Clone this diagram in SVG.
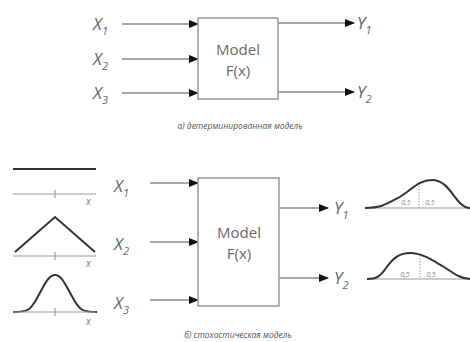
<svg xmlns="http://www.w3.org/2000/svg" width="470" height="342" viewBox="0 0 470 342">
<defs>
<marker id="ah" markerWidth="10" markerHeight="8" refX="9" refY="4" orient="auto" markerUnits="userSpaceOnUse">
<path d="M0,0 L10,4 L0,8 Z" fill="#111"/>
</marker>
<style>
.box{fill:#fff;stroke:#999;stroke-width:1.5}
.ln{stroke:#888;stroke-width:1.5;fill:none}
.lbl{font-family:"Open Sans","Liberation Sans",sans-serif;font-size:17px;fill:#666;font-style:italic}
.sub{font-size:11px}
.mt{font-family:"Open Sans","Liberation Sans",sans-serif;font-size:15px;fill:#6a6a6a;text-anchor:middle}
.cap{font-family:"Open Sans","Liberation Sans",sans-serif;font-size:8.5px;fill:#555;font-style:italic;text-anchor:middle}
.ax{stroke:#999;stroke-width:1.2;fill:none}
.cv{stroke:#333;stroke-width:2;fill:none}
.dt{stroke:#999;stroke-width:1;stroke-dasharray:1.5,1.5;fill:none}
.sm{font-family:"Open Sans","Liberation Sans",sans-serif;font-size:7px;fill:#888;font-style:italic;text-anchor:middle}
.xs{font-family:"Open Sans","Liberation Sans",sans-serif;font-size:10px;fill:#777;font-style:italic}
</style>
</defs>
<rect width="470" height="342" fill="#fff"/>

<g id="connectors">
<line class="ln" x1="122" y1="24" x2="198" y2="24" marker-end="url(#ah)"/>
<line class="ln" x1="122" y1="59" x2="198" y2="59" marker-end="url(#ah)"/>
<line class="ln" x1="122" y1="93" x2="198" y2="93" marker-end="url(#ah)"/>
<line class="ln" x1="278" y1="23" x2="354" y2="23" marker-end="url(#ah)"/>
<line class="ln" x1="278" y1="92" x2="354" y2="92" marker-end="url(#ah)"/>
<line class="ln" x1="150" y1="183" x2="198" y2="183" marker-end="url(#ah)"/>
<line class="ln" x1="150" y1="242" x2="198" y2="242" marker-end="url(#ah)"/>
<line class="ln" x1="150" y1="300" x2="198" y2="300" marker-end="url(#ah)"/>
<line class="ln" x1="279" y1="208" x2="328" y2="208" marker-end="url(#ah)"/>
<line class="ln" x1="279" y1="278" x2="328" y2="278" marker-end="url(#ah)"/>
</g>

<g id="model-a">
<rect class="box" x="198" y="18" width="80" height="81"/>
<text class="mt" x="238" y="55">Model</text>
<text class="mt" x="238" y="76">F(x)</text>
</g>

<g id="model-b">
<rect class="box" x="198" y="178" width="81" height="128"/>
<text class="mt" x="239" y="238">Model</text>
<text class="mt" x="239" y="259">F(x)</text>
</g>

<g id="labels-a">
<text class="lbl" x="93" y="30">X<tspan class="sub" dy="5">1</tspan></text>
<text class="lbl" x="93" y="65">X<tspan class="sub" dy="5">2</tspan></text>
<text class="lbl" x="93" y="99">X<tspan class="sub" dy="5">3</tspan></text>
<text class="lbl" x="357" y="29">Y<tspan class="sub" dy="5">1</tspan></text>
<text class="lbl" x="357" y="98">Y<tspan class="sub" dy="5">2</tspan></text>
<text class="cap" x="240" y="129">а) детерминированная модель</text>
</g>

<g id="labels-b">
<text class="lbl" x="114" y="192">X<tspan class="sub" dy="5">1</tspan></text>
<text class="lbl" x="114" y="250">X<tspan class="sub" dy="5">2</tspan></text>
<text class="lbl" x="114" y="309">X<tspan class="sub" dy="5">3</tspan></text>
<text class="lbl" x="334" y="214">Y<tspan class="sub" dy="5">1</tspan></text>
<text class="lbl" x="334" y="284">Y<tspan class="sub" dy="5">2</tspan></text>
<text class="cap" x="238" y="338">б) стохастическая модель</text>
</g>

<g id="dist-x1">
<line x1="13" y1="169" x2="96" y2="169" stroke="#333" stroke-width="2.2"/>
<line class="ax" x1="13" y1="194" x2="96" y2="194"/>
<line class="ax" x1="55" y1="190" x2="55" y2="198"/>
<text class="xs" x="86" y="205">x</text>
</g>

<g id="dist-x2">
<polyline class="cv" points="15,252 55,217 95,252"/>
<line class="ax" x1="13" y1="256" x2="96" y2="256"/>
<line class="ax" x1="55" y1="252" x2="55" y2="260"/>
<text class="xs" x="86" y="267">x</text>
</g>

<g id="dist-x3">
<path class="cv" d="M13,312 C28,312 30,310 36,300 C44,286 48,275 55,275 C62,275 66,286 74,300 C80,310 82,312 97,312"/>
<line class="ax" x1="13" y1="312" x2="96" y2="312"/>
<line class="ax" x1="55" y1="308" x2="55" y2="316"/>
<text class="xs" x="86" y="325">x</text>
</g>

<g id="dist-y1">
<line class="ax" x1="365" y1="208" x2="470" y2="208"/>
<path class="cv" d="M365,208 C380,208 385,205 398,198 C412,190 418,180 432,180 C446,180 452,195 460,203 C464,207 466,208 470,208"/>
<line class="dt" x1="419" y1="186" x2="419" y2="208"/>
<text class="sm" x="406" y="205">0,5</text>
<text class="sm" x="430" y="205">0,5</text>
</g>

<g id="dist-y2">
<line class="ax" x1="367" y1="279" x2="470" y2="279"/>
<path class="cv" d="M367,279 C376,279 380,277 386,268 C394,257 400,253 410,253 C422,253 432,260 444,267 C456,275 462,279 470,279"/>
<line class="dt" x1="420" y1="255" x2="420" y2="279"/>
<text class="sm" x="405" y="277">0,5</text>
<text class="sm" x="431" y="277">0,5</text>
</g>
</svg>
